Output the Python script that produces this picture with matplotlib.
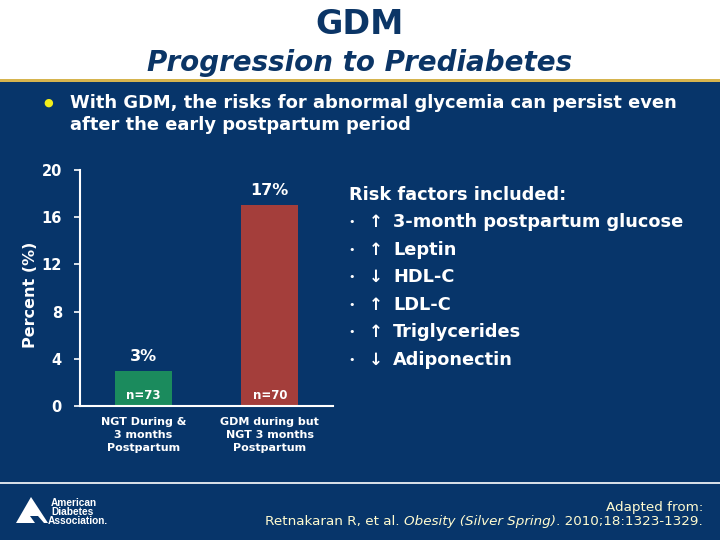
import matplotlib
matplotlib.use("Agg")
import matplotlib.pyplot as plt
from matplotlib.patches import Polygon, Rectangle
from matplotlib.lines import Line2D

# ---- data ----
categories = ["NGT During &\n3 months\nPostpartum", "GDM during but\nNGT 3 months\nPostpartum"]
values = [3, 17]
value_labels = ["3%", "17%"]
n_labels = ["n=73", "n=70"]
bar_colors = ["#1b8b5d", "#a43e3b"]
yticks = [0, 4, 8, 12, 16, 20]
risk_arrows = ["\u2191", "\u2191", "\u2193", "\u2191", "\u2191", "\u2193"]
risk_factors = ["3-month postpartum glucose", "Leptin", "HDL-C", "LDL-C", "Triglycerides", "Adiponectin"]

NAVY = "#07356a"
TITLE_NAVY = "#0b3566"
GOLD = "#d6b44e"

W, H = 720, 540
fig = plt.figure(figsize=(7.2, 5.4), dpi=100)
fig.patch.set_facecolor(NAVY)

def fx(x): return x / W
def fy(y): return 1 - y / H

# header white area
fig.add_artist(Rectangle((0, fy(80)), 1, 80 / H, transform=fig.transFigure, facecolor="white", edgecolor="none", zorder=0))
fig.add_artist(Rectangle((0, fy(82)), 1, 3 / H, transform=fig.transFigure, facecolor=GOLD, edgecolor="none", zorder=1))

fig.text(0.5, fy(25), "GDM", ha="center", va="center", fontsize=24, fontweight="bold", color=TITLE_NAVY)
fig.text(0.5, fy(63), "Progression to Prediabetes", ha="center", va="center", fontsize=20,
         fontweight="bold", fontstyle="italic", color=TITLE_NAVY)

# bullet
fig.text(fx(48), fy(103), "\u25cf", ha="center", va="center", fontsize=8, color="#f2ee1a")
fig.text(fx(70), fy(103), "With GDM, the risks for abnormal glycemia can persist even", ha="left", va="center",
         fontsize=12.9, fontweight="bold", color="white")
fig.text(fx(70), fy(125), "after the early postpartum period", ha="left", va="center",
         fontsize=12.9, fontweight="bold", color="white")

# axes
ax = fig.add_axes([fx(80), fy(406), (333 - 80) / W, (406 - 170) / H])
ax.set_facecolor("none")
x = list(range(len(values)))
ax.bar(x, values, width=0.45, color=bar_colors, edgecolor="none", zorder=2)
ax.set_xlim(-0.5, 1.5)
ax.set_ylim(0, 20)
ax.set_yticks(yticks)
ax.set_yticklabels([str(t) for t in yticks], fontsize=10.5, fontweight="bold", color="white")
ax.set_xticks(x)
ax.set_xticklabels(categories, fontsize=8, fontweight="bold", color="white", linespacing=1.35)
ax.tick_params(axis="x", length=0, pad=8)
ax.tick_params(axis="y", length=4, width=1.2, color="white", pad=9, direction="out")
for s in ["top", "right"]:
    ax.spines[s].set_visible(False)
for s in ["left", "bottom"]:
    ax.spines[s].set_color("white")
    ax.spines[s].set_linewidth(1.5)
ax.set_ylabel("Percent (%)", fontsize=11.5, fontweight="bold", color="white")
ax.yaxis.set_label_coords(-0.165, 0.47)
for xi, v, vl, nl in zip(x, values, value_labels, n_labels):
    ax.text(xi, v + 0.6, vl, ha="center", va="bottom", fontsize=11.5, fontweight="bold", color="white")
    ax.text(xi, 0.9, nl, ha="center", va="center", fontsize=8.5, fontweight="bold", color="white")

# risk factors
fig.text(fx(349), fy(195), "Risk factors included:", ha="left", va="center", fontsize=12.8, fontweight="bold", color="white")
for i, (arr, rf) in enumerate(zip(risk_arrows, risk_factors)):
    yy = 222 + i * 27.6
    fig.text(fx(352), fy(yy), "\u2022", ha="center", va="center", fontsize=8, color="white")
    fig.text(fx(376), fy(yy), arr, ha="center", va="center", fontsize=12, fontweight="bold", color="white")
    fig.text(fx(393), fy(yy), rf, ha="left", va="center", fontsize=12.8, fontweight="bold", color="white")

# footer line
fig.add_artist(Line2D([0, 1], [fy(483), fy(483)], transform=fig.transFigure, color="white", linewidth=1.2))

# ADA logo
logo = [(31, 497), (16, 523), (35, 523), (30, 516), (38, 516), (44, 523), (48, 523)]
fig.add_artist(Polygon([(fx(a), fy(b)) for a, b in logo], closed=True, transform=fig.transFigure,
                       facecolor="white", edgecolor="none"))
for j, t in enumerate(["American", "Diabetes", "Association."]):
    fig.text(fx(51 if j < 2 else 48), fy(503 + j * 8.8), t, ha="left", va="center", fontsize=7.3,
             fontweight="bold", color="white", family="Liberation Sans")

# citation
CITE = "#fffbd0"
fnt = dict(fontsize=9.7, color=CITE, family="Liberation Sans Narrow")
fig.text(fx(703), fy(508), "Adapted from:", ha="right", va="center", **fnt)
pieces = [("Retnakaran R, et al. ", "normal"), ("Obesity (Silver Spring)", "italic"), (". 2010;18:1323-1329.", "normal")]
fig.canvas.draw()
r = fig.canvas.get_renderer()
xr = 703
for txt, st in reversed(pieces):
    t = fig.text(fx(xr), fy(522), txt, ha="right", va="center", fontstyle=st, **fnt)
    bb = t.get_window_extent(renderer=r)
    xr -= bb.width

fig.savefig("out.png", dpi=100, facecolor=fig.get_facecolor())
